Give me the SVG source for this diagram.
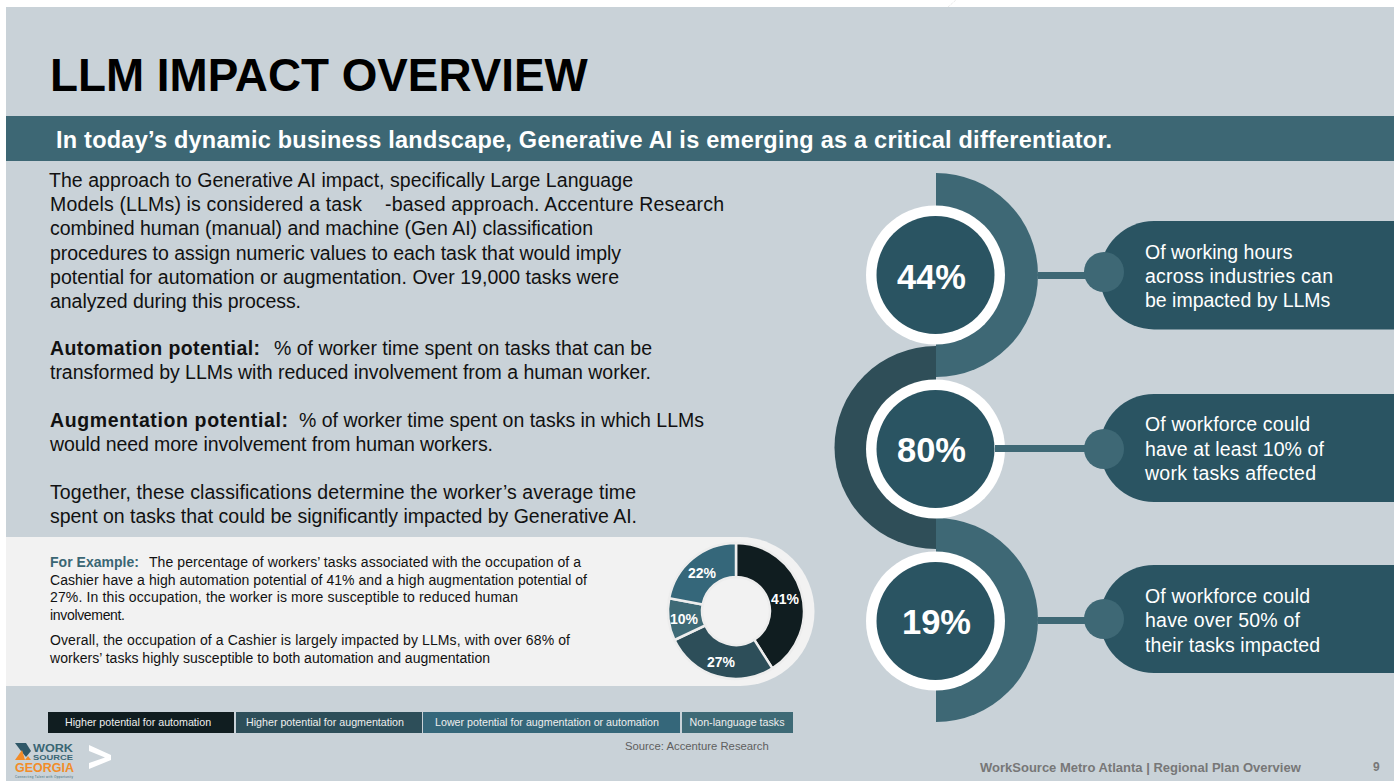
<svg xmlns="http://www.w3.org/2000/svg" width="1399" height="782" viewBox="0 0 1399 782">
<style>
text{font-family:"Liberation Sans",Arial,sans-serif}
.body{font-size:19.5px;fill:#111}
.b{font-weight:bold}
.small{font-size:14px;fill:#111}
.pct{font-size:34.500px;font-weight:bold;fill:#fff;text-anchor:middle}
.call{font-size:19.500px;fill:#fff}
.don{font-size:14px;font-weight:bold;fill:#fff;text-anchor:middle}
.leg{font-size:10.700px;fill:#eee;text-anchor:middle}
.ring{fill:#fff}
.core{fill:#2A5462}
.lnk{fill:#3E6875}
.pill{fill:#2A5462}
</style>
<rect width="1399" height="782" fill="#fff"/>
<line x1="948" y1="7" x2="956" y2="0" stroke="#e4e4e4" stroke-dasharray="1 1"/>
<rect x="6" y="7" width="1388" height="774" fill="#C9D2D8"/>
<text x="50" y="91" font-size="45.800" font-weight="bold" fill="#000">LLM IMPACT OVERVIEW</text>
<rect x="6" y="116" width="1388" height="45" fill="#3D6774"/>
<text x="56" y="148" font-size="23.500" font-weight="bold" fill="#fff" textLength="1056">In today’s dynamic business landscape, Generative AI is emerging as a critical differentiator.</text>
<g id="body-text">
<text class="body" x="49" y="187" textLength="584">The approach to Generative AI impact, specifically Large Language</text>
<text class="body" x="50" y="211" textLength="312">Models (LLMs) is considered a task</text>
<text class="body" x="385" y="211" textLength="339">-based approach. Accenture Research</text>
<text class="body" x="50" y="235" textLength="543">combined human (manual) and machine (Gen AI) classification</text>
<text class="body" x="50" y="260" textLength="571">procedures to assign numeric values to each task that would imply</text>
<text class="body" x="50" y="284" textLength="569">potential for automation or augmentation. Over 19,000 tasks were</text>
<text class="body" x="50" y="308" textLength="251">analyzed during this process.</text>
<text class="body b" x="50" y="355" textLength="210">Automation potential:</text>
<text class="body" x="274" y="355" textLength="378">% of worker time spent on tasks that can be</text>
<text class="body" x="50" y="379" textLength="601">transformed by LLMs with reduced involvement from a human worker.</text>
<text class="body b" x="50" y="427" textLength="238">Augmentation potential:</text>
<text class="body" x="299" y="427" textLength="405">% of worker time spent on tasks in which LLMs</text>
<text class="body" x="50" y="451" textLength="443">would need more involvement from human workers.</text>
<text class="body" x="50" y="499" textLength="586">Together, these classifications determine the worker’s average time</text>
<text class="body" x="50" y="523" textLength="587">spent on tasks that could be significantly impacted by Generative AI.</text>
</g>
<g id="example">
<path d="M6 537H740A74.500 74.500 0 0 1 740 686H6Z" fill="#F2F2F2"/>
<text class="small b" x="50" y="567" style="fill:#3A6674" textLength="89">For Example:</text>
<text class="small" x="149" y="567" textLength="432">The percentage of workers’ tasks associated with the occupation of a</text>
<text class="small" x="50" y="585" textLength="537">Cashier have a high automation potential of 41% and a high augmentation potential of</text>
<text class="small" x="50" y="602" textLength="468">27%. In this occupation, the worker is more susceptible to reduced human</text>
<text class="small" x="50" y="620" textLength="75">involvement.</text>
<text class="small" x="50" y="645" textLength="520">Overall, the occupation of a Cashier is largely impacted by LLMs, with over 68% of</text>
<text class="small" x="50" y="663" textLength="440">workers’ tasks highly susceptible to both automation and augmentation</text>
</g>
<g id="donut" stroke="#EDEDED" stroke-width="2.500">
<path d="M736 543A68 68 0 0 1 772.400 668.400L754.200 639.700A34 34 0 0 0 736 577Z" fill="#101D20"/>
<path d="M772.400 668.400A68 68 0 0 1 674.500 640L705.200 625.500A34 34 0 0 0 754.200 639.700Z" fill="#2D4E59"/>
<path d="M674.500 640A68 68 0 0 1 669.200 598.300L702.600 604.600A34 34 0 0 0 705.200 625.500Z" fill="#3E6A76"/>
<path d="M669.200 598.300A68 68 0 0 1 736 543V577A34 34 0 0 0 702.600 604.600Z" fill="#35677A"/>
</g>
<text class="don" x="785" y="604">41%</text>
<text class="don" x="721" y="667">27%</text>
<text class="don" x="684" y="624">10%</text>
<text class="don" x="702" y="578">22%</text>
<g id="legend">
<rect x="48" y="712" width="186" height="21" fill="#101D20"/>
<rect x="236" y="712" width="186" height="21" fill="#2D4E59"/>
<rect x="423" y="712" width="257" height="21" fill="#35677A"/>
<rect x="682" y="712" width="111" height="21" fill="#3E6A76"/>
<text class="leg" x="138" y="726">Higher potential for automation</text>
<text class="leg" x="325" y="726">Higher potential for augmentation</text>
<text class="leg" x="547" y="726">Lower potential for augmentation or automation</text>
<text class="leg" x="737" y="726">Non-language tasks</text>
</g>
<text x="625" y="750" font-size="11.300" fill="#5f5f5f">Source: Accenture Research</text>
<g id="logo">
<path d="M15 743H26L31 751L26 757L21 751Z" fill="#2F5868"/>
<path d="M15 760L22 750L25 760Z" fill="#F28C28"/>
<path d="M25 760L28 756L31 760Z" fill="#F28C28"/>
<text x="33" y="751.500" font-size="10.500" font-weight="bold" fill="#3A6674" textLength="40" lengthAdjust="spacingAndGlyphs">WORK</text>
<text x="33" y="760" font-size="7" font-weight="bold" fill="#3A6674" textLength="40" lengthAdjust="spacingAndGlyphs">SOURCE</text>
<text x="15" y="772" font-size="12" font-weight="bold" fill="#F28C28" textLength="59" lengthAdjust="spacingAndGlyphs">GEORGIA</text>
<text x="15" y="778" font-size="3" fill="#3A6674" textLength="58">Connecting Talent with Opportunity</text>
</g>
<polygon id="chevron" points="89,745 111,755 111,760 89,769 89,763 105,757.500 89,751" fill="#fff"/>
<text x="980" y="771.500" font-size="13" font-weight="bold" fill="#777">WorkSource Metro Atlanta | Regional Plan Overview</text>
<text x="1373" y="771" font-size="12" font-weight="bold" fill="#777">9</text>
<g id="arcs">
<path d="M936 346A101.500 101.500 0 0 0 936 549Z" fill="#2F4E58"/>
<path d="M936 173A102 102 0 0 1 936 377Z" fill="#3E6875"/>
<path d="M936 518A102 102 0 0 1 936 722Z" fill="#3E6875"/>
</g>
<g id="stat-44">
<circle class="ring" cx="935.500" cy="275" r="69.500"/><circle class="core" cx="935.500" cy="275" r="59"/>
<text class="pct" x="931.500" y="289">44%</text>
</g>
<g id="stat-80">
<circle class="ring" cx="935.500" cy="449" r="69.500"/><circle class="core" cx="935.500" cy="449" r="59"/>
<text class="pct" x="931.500" y="462">80%</text>
</g>
<g id="stat-19">
<circle class="ring" cx="935.500" cy="621" r="69.500"/><circle class="core" cx="935.500" cy="621" r="59"/>
<text class="pct" x="936.500" y="634">19%</text>
</g>
<g id="connectors">
<rect class="lnk" x="1038" y="272" width="55" height="7"/>
<rect class="lnk" x="995" y="445" width="98" height="7"/>
<rect class="lnk" x="1038" y="617" width="55" height="7"/>
</g>
<g id="card-1">
<path class="pill" d="M1394 221H1154A54 54 0 0 0 1154 329.500H1394Z"/>
<circle class="lnk" cx="1104" cy="272" r="20"/>
<text class="call" x="1145" y="259">Of working hours</text>
<text class="call" x="1145" y="283" textLength="188">across industries can</text>
<text class="call" x="1145" y="307">be impacted by LLMs</text>
</g>
<g id="card-2">
<path class="pill" d="M1394 394H1154A54 54 0 0 0 1154 502H1394Z"/>
<circle class="lnk" cx="1104" cy="449" r="20"/>
<text class="call" x="1145" y="431" textLength="165">Of workforce could</text>
<text class="call" x="1145" y="456" textLength="179">have at least 10% of</text>
<text class="call" x="1145" y="480" textLength="171">work tasks affected</text>
</g>
<g id="card-3">
<path class="pill" d="M1394 565H1154A54 54 0 0 0 1154 673H1394Z"/>
<circle class="lnk" cx="1104" cy="619" r="20"/>
<text class="call" x="1145" y="603" textLength="165">Of workforce could</text>
<text class="call" x="1145" y="627" textLength="155">have over 50% of</text>
<text class="call" x="1145" y="652" textLength="175">their tasks impacted</text>
</g>
</svg>
